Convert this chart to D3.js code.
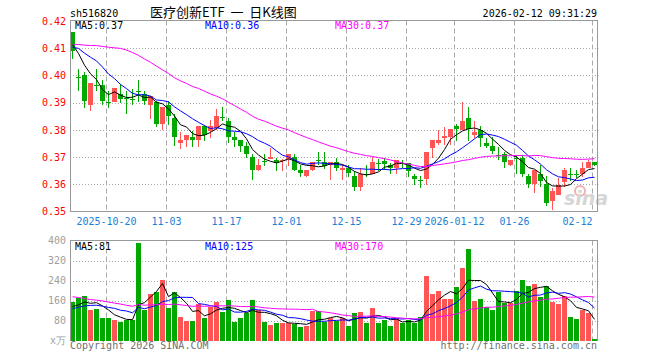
<!DOCTYPE html>
<html>
<head>
<meta charset="utf-8">
<script src="https://cdn.jsdelivr.net/npm/d3@7"></script>
<style>
  body { margin: 0; background: #fff; }
  text { font-family: "DejaVu Sans Mono", "Liberation Mono", monospace; font-size: 10px; }
</style>
</head>
<body>
<svg id="chart" width="660" height="360"></svg>
<script>
// trading days shown (10-10 .. 02-12)
const dates = [
  '2025-10-10','2025-10-13','2025-10-14','2025-10-15','2025-10-16','2025-10-17','2025-10-20','2025-10-21',
  '2025-10-22','2025-10-23','2025-10-24','2025-10-27','2025-10-28','2025-10-29','2025-10-30','2025-10-31',
  '2025-11-03','2025-11-04','2025-11-05','2025-11-06','2025-11-07','2025-11-10','2025-11-11','2025-11-12',
  '2025-11-13','2025-11-14','2025-11-17','2025-11-18','2025-11-19','2025-11-20','2025-11-21','2025-11-24',
  '2025-11-25','2025-11-26','2025-11-27','2025-11-28','2025-12-01','2025-12-02','2025-12-03','2025-12-04',
  '2025-12-05','2025-12-08','2025-12-09','2025-12-10','2025-12-11','2025-12-12','2025-12-15','2025-12-16',
  '2025-12-17','2025-12-18','2025-12-19','2025-12-22','2025-12-23','2025-12-24','2025-12-25','2025-12-26',
  '2025-12-29','2025-12-30','2025-12-31','2026-01-05','2026-01-06','2026-01-07','2026-01-08','2026-01-09',
  '2026-01-12','2026-01-13','2026-01-14','2026-01-15','2026-01-16','2026-01-19','2026-01-20','2026-01-21',
  '2026-01-22','2026-01-23','2026-01-26','2026-01-27','2026-01-28','2026-01-29','2026-01-30','2026-02-02',
  '2026-02-03','2026-02-04','2026-02-05','2026-02-06','2026-02-09','2026-02-10','2026-02-11','2026-02-12'
];

const open = [
  0.416,0.3993,0.400,0.3892,0.3964,0.3964,0.3902,0.3902,0.3932,0.3917,0.3913,0.3944,0.3932,0.3892,0.3902,0.3821,
  0.3892,0.3843,0.3752,0.3763,0.3773,0.3763,0.3814,0.3794,0.3806,0.3848,0.3831,0.3774,0.3762,0.374,0.3701,0.3652,
  0.3686,0.3693,0.3691,0.3684,0.3693,0.370,0.3652,0.3632,0.3654,0.3691,0.3681,0.3671,0.3681,0.3654,0.3659,0.3629,
  0.359,0.3639,0.3639,0.3679,0.3684,0.3671,0.3659,0.3679,0.368,0.3629,0.3615,0.362,0.3733,0.3752,0.377,0.3772,
  0.3814,0.3801,0.3843,0.3782,0.3799,0.375,0.374,0.3708,0.3711,0.3671,0.3696,0.3696,0.3629,0.360,0.3639,0.360,
  0.3539,0.3561,0.361,0.3639,0.3639,0.3639,0.3659,0.3681
];
const high = [
  0.416,0.4024,0.4013,0.3972,0.4024,0.3982,0.3942,0.3954,0.3969,0.3942,0.3951,0.3985,0.3944,0.3923,0.3907,0.3885,
  0.3907,0.3858,0.3792,0.3781,0.3794,0.3814,0.3819,0.3836,0.3875,0.3885,0.3843,0.3792,0.3762,0.3757,0.3713,0.3692,
  0.3711,0.3733,0.3698,0.3693,0.3711,0.3711,0.3671,0.3654,0.3681,0.372,0.372,0.3681,0.3698,0.3676,0.3671,0.3647,
  0.3661,0.3671,0.3701,0.3693,0.3698,0.3679,0.3691,0.3688,0.368,0.3639,0.3629,0.372,0.3762,0.3801,0.3811,0.3803,
  0.3821,0.3902,0.3883,0.3831,0.3814,0.377,0.3774,0.3738,0.372,0.3691,0.3708,0.3708,0.3639,0.3652,0.3671,0.3629,
  0.3588,0.3622,0.3659,0.3661,0.3652,0.3681,0.3691,0.3681
];
const low = [
  0.406,0.3942,0.388,0.387,0.3942,0.389,0.388,0.3902,0.3899,0.3859,0.389,0.3902,0.389,0.3841,0.3809,0.380,
  0.3819,0.3739,0.373,0.3738,0.3738,0.3738,0.376,0.377,0.380,0.3831,0.3751,0.3738,0.3718,0.3696,0.3616,0.3649,
  0.3669,0.3693,0.3649,0.3649,0.3669,0.3649,0.3627,0.3627,0.3649,0.3671,0.3657,0.3616,0.3649,0.3616,0.3627,0.3575,
  0.3575,0.3627,0.3639,0.3649,0.3652,0.3639,0.3639,0.3659,0.3627,0.3598,0.3588,0.3598,0.3696,0.3745,0.3745,0.3745,
  0.376,0.3801,0.376,0.377,0.3738,0.3733,0.3711,0.3688,0.3659,0.3669,0.3639,0.3627,0.3588,0.3568,0.359,0.3519,
  0.3504,0.3561,0.359,0.3612,0.3622,0.3627,0.3659,0.3666
];
const close = [
  0.409,0.3993,0.3905,0.3972,0.3964,0.3905,0.3902,0.3954,0.3914,0.3917,0.3913,0.3944,0.3905,0.3923,0.3821,0.3885,
  0.3851,0.3774,0.3762,0.3781,0.3763,0.3814,0.3782,0.3814,0.3851,0.3848,0.3774,0.3762,0.374,0.3711,0.3654,0.3671,
  0.3686,0.3701,0.368,0.3688,0.3711,0.3653,0.3642,0.3654,0.3681,0.3691,0.3669,0.3681,0.3661,0.3661,0.3642,0.359,
  0.3639,0.3639,0.3681,0.3679,0.3676,0.3659,0.3691,0.3679,0.3647,0.362,0.3615,0.372,0.3762,0.3762,0.3779,0.3803,
  0.3804,0.3831,0.3804,0.3792,0.377,0.374,0.3723,0.3708,0.3681,0.3691,0.3696,0.3639,0.360,0.3652,0.3612,0.3531,
  0.3575,0.3598,0.3652,0.3639,0.3639,0.3659,0.3681,0.3671
];
// volume, 万
const volume = [
  156,172,179,123,127,91,91,83,75,83,84,392,123,187,195,243,
  131,195,96,80,80,147,91,136,155,115,163,75,91,112,163,123,
  75,64,71,72,70,68,55,58,118,118,76,89,80,91,59,111,
  115,71,131,71,83,59,85,72,83,72,95,259,187,199,167,167,
  215,291,367,159,167,135,123,195,151,151,199,243,219,227,175,219,
  155,147,179,95,87,123,111,7
];
// sessions before the window, only feed the moving averages
const prevClose = [
  0.396,0.398,0.401,0.397,0.400,0.399,0.402,0.398,
  0.410,0.418,0.426,0.431,0.428,0.425,0.429,0.426,0.424,
  0.410,0.407,0.409,0.404,0.408,0.412,0.410,0.413,0.416,0.412,0.413,0.407
];
const prevVolume = [
  260,310,240,200,180,230,210,190,230,200,
  180,210,150,160,190,170,150,180,160,180,
  110,130,100,120,130,140,120,150,114
];

const tickDates = ['2025-10-20','2025-11-03','2025-11-17','2025-12-01','2025-12-15','2025-12-29','2026-01-12','2026-01-26','2026-02-12'];
const tickLabels = ['2025-10-20','11-03','11-17','12-01','12-15','12-29','2026-01-12','01-26','02-12'];
const priceTicks = [0.35,0.36,0.37,0.38,0.39,0.40,0.41,0.42];
const volTicks = [0,80,160,240,320,400];
const maDays = [5,10,30];
const priceMaText = ['0.37','0.36','0.37'];
const volMaText = ['81','125','170'];

const maColors = ['#000000','#0000ff','#ff00ff'];
const upColor = '#ff5555';
const downColor = '#00a800';
const gridColor = '#aaaaaa';
const frameColor = '#999999';

const left = 70, right = 597.5;
const priceTop = 20.5, priceBottom = 211.5;
const volTop = 240.5, volBottom = 340.5;

const svg = d3.select('#chart');

// index -> left edge of its 6px slot
const xi = d3.scaleLinear().domain([0, dates.length]).range([left, left + dates.length * 6]);
const cx = i => xi(i) + 2.5;
const yPrice = d3.scaleLinear().domain([0.35, 0.42]).range([priceBottom, priceTop + 0.5]);
const yVol = d3.scaleLinear().domain([0, 400]).range([volBottom, volTop]);

const movingAvg = (prev, arr, n) => {
  const all = prev.concat(arr);
  return arr.map((d, i) => d3.mean(all.slice(prev.length + i - n + 1, prev.length + i + 1)));
};

const tickIdx = tickDates.map(d => dates.indexOf(d));

// header
svg.append('text').attr('x', left).attr('y', 17).attr('fill', '#000').text('sh516820');
svg.append('text').attr('x', 150).attr('y', 17)
  .style('font-family', '"Noto Sans CJK SC", sans-serif').style('font-size', '13px')
  .style('white-space', 'pre')
  .attr('fill', '#000').text('医疗创新ETF  一  日K线图');
svg.append('text').attr('x', right - 0.5).attr('y', 17).attr('text-anchor', 'end')
  .attr('fill', '#000').text('2026-02-12 09:31:29');

const drawPanel = (top, bottom, yScale, gridVals) => {
  const g = svg.append('g');
  g.selectAll('.hgrid').data(gridVals).enter().append('line')
    .attr('x1', left).attr('x2', right + 1)
    .attr('y1', d => Math.round(yScale(d)) + 0.5).attr('y2', d => Math.round(yScale(d)) + 0.5)
    .attr('stroke', gridColor).attr('stroke-dasharray', '1,2');
  g.selectAll('.vgrid').data(tickIdx).enter().append('line')
    .attr('x1', d => xi(d) + 0.5).attr('x2', d => xi(d) + 0.5)
    .attr('y1', top).attr('y2', bottom)
    .attr('stroke', gridColor).attr('stroke-dasharray', '5,3');
  return g;
};

// price panel
drawPanel(priceTop, priceBottom, yPrice, [0.36,0.37,0.38,0.39,0.40,0.41]);

// sina watermark
svg.append('circle').attr('cx', 580).attr('cy', 191).attr('r', 5)
  .attr('fill', 'none').attr('stroke', '#f2b0b0').attr('stroke-width', 2);
svg.append('text').attr('x', 564).attr('y', 205)
  .style('font-family', '"DejaVu Sans", sans-serif').style('font-size', '19px')
  .style('font-style', 'italic').style('font-weight', 'bold')
  .attr('fill', '#d6d6d6').text('sina');

const candles = svg.append('g').attr('shape-rendering', 'crispEdges');
const idx = d3.range(dates.length);
const colorOf = i => close[i] > open[i] ? upColor : downColor;

candles.selectAll('.wick').data(idx).enter().append('line')
  .attr('x1', i => cx(i)).attr('x2', i => cx(i))
  .attr('y1', i => yPrice(high[i])).attr('y2', i => yPrice(low[i]))
  .attr('stroke', colorOf);
candles.selectAll('.body').data(idx).enter().append('rect')
  .attr('x', i => xi(i))
  .attr('y', i => yPrice(Math.max(open[i], close[i])))
  .attr('width', 5)
  .attr('height', i => Math.max(1, Math.abs(yPrice(open[i]) - yPrice(close[i]))))
  .attr('fill', colorOf);

const maLine = yScale => d3.line().x((d, i) => cx(i)).y(d => yScale(d));
maDays.forEach((n, k) => {
  svg.append('path').attr('d', maLine(yPrice)(movingAvg(prevClose, close, n)))
    .attr('fill', 'none').attr('stroke', maColors[k]).attr('stroke-width', 1);
});

// frame + axes
svg.append('path')
  .attr('d', `M${left + 0.5},${priceTop}H${right}V${priceBottom}H${left + 0.5}Z`)
  .attr('fill', 'none').attr('stroke', frameColor).attr('shape-rendering', 'crispEdges');

const yAxis = svg.append('g').attr('transform', `translate(${left},0)`)
  .call(d3.axisLeft(yPrice).tickValues(priceTicks).tickFormat(d3.format('.2f')).tickSize(0).tickPadding(4));
yAxis.select('.domain').remove();
yAxis.selectAll('text').attr('fill', '#ff0000').style('font-size', '10px').style('font-family', null);

const xAxis = svg.append('g').attr('transform', `translate(0,${priceBottom})`)
  .call(d3.axisBottom(xi).tickValues(tickIdx).tickFormat((d, i) => tickLabels[i]).tickSize(0).tickPadding(6));
xAxis.select('.domain').remove();
xAxis.selectAll('text').attr('fill', '#1a7fd6').style('font-size', '10px').style('font-family', null)
  .attr('text-anchor', (d, i) => i === tickIdx.length - 1 ? 'end' : 'middle');

maDays.forEach((n, k) => {
  svg.append('text').attr('x', 75 + k * 130).attr('y', 29).attr('fill', maColors[k])
    .text(`MA${n}:${priceMaText[k]}`);
});

// volume panel
drawPanel(volTop, volBottom, yVol, [80,160,240,320]);

svg.append('g').attr('shape-rendering', 'crispEdges')
  .selectAll('rect').data(idx).enter().append('rect')
  .attr('x', i => xi(i))
  .attr('y', i => yVol(volume[i]))
  .attr('width', 5)
  .attr('height', i => volBottom - yVol(volume[i]))
  .attr('fill', colorOf);

maDays.forEach((n, k) => {
  svg.append('path').attr('d', maLine(yVol)(movingAvg(prevVolume, volume, n)))
    .attr('fill', 'none').attr('stroke', maColors[k]).attr('stroke-width', 1);
});

svg.append('path')
  .attr('d', `M${left + 0.5},${volBottom}V${volTop}H${right}V${volBottom}`)
  .attr('fill', 'none').attr('stroke', frameColor).attr('shape-rendering', 'crispEdges');

const vAxis = svg.append('g').attr('transform', `translate(${left},0)`)
  .call(d3.axisLeft(yVol).tickValues(volTicks).tickFormat(d => d === 0 ? 'x万' : d).tickSize(0).tickPadding(4));
vAxis.select('.domain').remove();
vAxis.selectAll('text').attr('fill', '#a0a0a0').style('font-size', '10px').style('font-family', null);

maDays.forEach((n, k) => {
  svg.append('text').attr('x', 75 + k * 130).attr('y', 250).attr('fill', maColors[k])
    .text(`MA${n}:${volMaText[k]}`);
});

// footer
svg.append('text').attr('x', left).attr('y', 349).attr('fill', '#707070').text('Copyright 2026 SINA.COM');
svg.append('text').attr('x', right - 0.5).attr('y', 349).attr('text-anchor', 'end')
  .attr('fill', '#707070').text('http://finance.sina.com.cn');
</script>
</body>
</html>
